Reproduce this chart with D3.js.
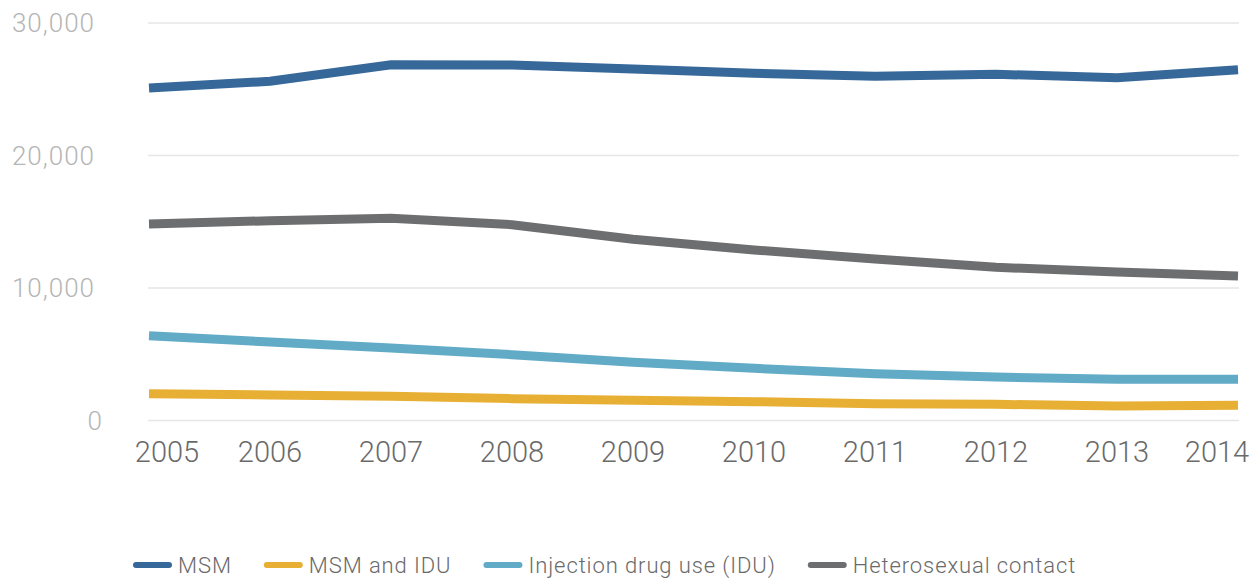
<!DOCTYPE html>
<html>
<head>
<meta charset="utf-8">
<script src="https://cdn.jsdelivr.net/npm/d3@7"></script>
<style>
  html, body { margin: 0; padding: 0; background: #fff; }
  svg { display: block; font-family: Roboto, "Noto Sans", sans-serif; }
</style>
</head>
<body>
<svg id="chart" width="1254" height="579"></svg>
<script>
// ============ Data ============
const years = ["2005","2006","2007","2008","2009","2010","2011","2012","2013","2014"];
const msm    = [25100, 25600, 26850, 26830, 26530, 26200, 25980, 26130, 25870, 26480];
const msmIdu = [2020, 1930, 1830, 1650, 1530, 1420, 1270, 1220, 1090, 1150];
const idu    = [6400, 5920, 5470, 4970, 4390, 3940, 3530, 3280, 3110, 3110];
const hetero = [14830, 15080, 15260, 14780, 13680, 12870, 12190, 11560, 11210, 10910];
const yTicks = [0, 10000, 20000, 30000];

const seriesNames  = ["MSM", "MSM and IDU", "Injection drug use (IDU)", "Heterosexual contact"];
const seriesValues = [msm, msmIdu, idu, hetero];
const seriesColors = ["#37689a", "#e7b035", "#61abc7", "#6d6e70"];

// ============ Layout ============
const plotLeft = 149, plotRight = 1238, plotTop = 23, plotBottom = 420.5;

const svg = d3.select("#chart");

const x = d3.scalePoint().domain(years).range([plotLeft, plotRight]);
const y = d3.scaleLinear().domain([0, 30000]).range([plotBottom, plotTop]);

// ---- Gridlines ----
svg.append("g")
  .selectAll("line")
  .data(yTicks)
  .enter().append("line")
  .attr("x1", plotLeft - 1).attr("x2", plotRight + 1)
  .attr("y1", d => y(d)).attr("y2", d => y(d))
  .attr("stroke", "#e6e6e6")
  .attr("stroke-width", 1.6);

// ---- Y labels ----
svg.append("g")
  .selectAll("text")
  .data(yTicks)
  .enter().append("text")
  .attr("x", d => d === 0 ? 103 : 95)
  .attr("y", d => y(d))
  .attr("text-anchor", "end")
  .attr("dominant-baseline", "central")
  .attr("font-size", 26)
  .attr("font-weight", 300)
  .attr("letter-spacing", 1)
  .attr("fill", "#b5b5b5")
  .text(d => d3.format(",")(d));

// ---- X labels (first/last pulled inside the plot like the source) ----
svg.append("g")
  .selectAll("text")
  .data(years)
  .enter().append("text")
  .attr("x", d => Math.min(1217, Math.max(167, x(d))))
  .attr("y", 452)
  .attr("text-anchor", "middle")
  .attr("dominant-baseline", "central")
  .attr("font-size", 29)
  .attr("font-weight", 300)
  .attr("fill", "#6a6a6a")
  .text(d => d);

// ---- Lines ----
const line = d3.line()
  .x((d, i) => x(years[i]))
  .y(d => y(d));

svg.append("g")
  .selectAll("path")
  .data(seriesValues)
  .enter().append("path")
  .attr("d", d => line(d))
  .attr("fill", "none")
  .attr("stroke", (d, i) => seriesColors[i])
  .attr("stroke-width", 9)
  .attr("stroke-linejoin", "miter");

// ---- Legend ----
const legend = svg.append("g");
let lx = 133;
const ly = 565;
seriesNames.forEach((name, i) => {
  legend.append("line")
    .attr("x1", lx + 3).attr("x2", lx + 36)
    .attr("y1", ly).attr("y2", ly)
    .attr("stroke", seriesColors[i])
    .attr("stroke-width", 6)
    .attr("stroke-linecap", "round");
  const t = legend.append("text")
    .attr("x", lx + 45)
    .attr("y", ly + 8)
    .attr("font-size", 22)
    .attr("font-weight", 300)
    .attr("letter-spacing", 0.9)
    .attr("fill", "#6a6a6a")
    .text(name);
  lx += 45 + t.node().getComputedTextLength() + 32;
});
</script>
</body>
</html>
